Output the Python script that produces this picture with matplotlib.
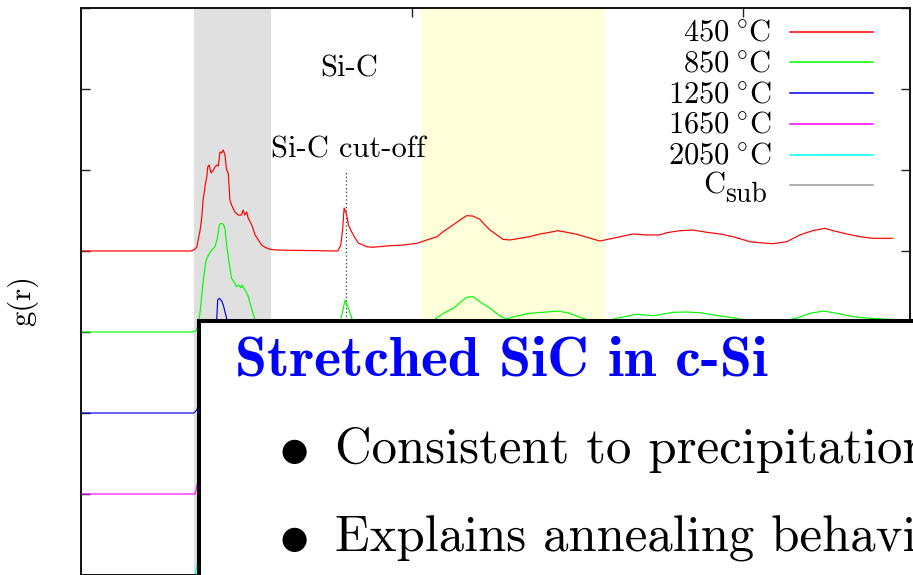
import matplotlib
matplotlib.use("Agg")
import matplotlib.pyplot as plt
from matplotlib.lines import Line2D

plt.rcParams["font.family"] = "cmr10"
plt.rcParams["mathtext.fontset"] = "cm"
plt.rcParams["axes.unicode_minus"] = False

# Pair distribution functions g(r), r in Angstrom; each curve is shifted
# upwards by its offset when drawn.
r_450 = [1.000, 1.329, 1.341, 1.350, 1.354, 1.360, 1.365, 1.369, 1.375, 1.380,
         1.383, 1.387, 1.393, 1.400, 1.405, 1.410, 1.415, 1.420, 1.425, 1.430,
         1.435, 1.440, 1.445, 1.450, 1.455, 1.465, 1.475, 1.485, 1.490, 1.495,
         1.501, 1.505, 1.516, 1.526, 1.536, 1.546, 1.556, 1.571, 1.589, 1.776,
         1.785, 1.791, 1.795, 1.803, 1.808, 1.818, 1.828, 1.838, 1.863, 1.882,
         1.924, 1.973, 2.015, 2.045, 2.076, 2.094, 2.124, 2.145, 2.165, 2.184,
         2.205, 2.221, 2.236, 2.257, 2.275, 2.296, 2.326, 2.356, 2.387, 2.417,
         2.441, 2.468, 2.498, 2.529, 2.568, 2.607, 2.668, 2.710, 2.749, 2.770,
         2.810, 2.849, 2.891, 2.931, 2.970, 3.021, 3.051, 3.091, 3.133, 3.172,
         3.211, 3.248, 3.272, 3.314, 3.353, 3.393, 3.453]
g_450 = [0.000, 0.000, 0.012, 0.049, 0.136, 0.259, 0.420, 0.630, 0.802, 0.914,
         1.037, 1.062, 0.963, 1.000, 1.037, 1.062, 1.049, 1.222, 1.210, 1.247,
         1.185, 1.000, 0.963, 0.630, 0.568, 0.481, 0.444, 0.444, 0.506, 0.444,
         0.481, 0.407, 0.321, 0.198, 0.136, 0.074, 0.046, 0.021, 0.012, 0.000,
         0.074, 0.284, 0.531, 0.444, 0.321, 0.235, 0.160, 0.099, 0.053, 0.046,
         0.062, 0.074, 0.095, 0.136, 0.177, 0.238, 0.321, 0.383, 0.436, 0.432,
         0.391, 0.321, 0.259, 0.198, 0.144, 0.136, 0.157, 0.177, 0.210, 0.231,
         0.251, 0.231, 0.206, 0.169, 0.123, 0.157, 0.210, 0.198, 0.198, 0.226,
         0.251, 0.259, 0.231, 0.210, 0.177, 0.115, 0.102, 0.090, 0.115, 0.198,
         0.251, 0.280, 0.251, 0.210, 0.177, 0.157, 0.157]

r_850 = [1.000, 1.335, 1.347, 1.354, 1.360, 1.369, 1.377, 1.385, 1.395, 1.405,
         1.412, 1.418, 1.423, 1.430, 1.435, 1.440, 1.447, 1.455, 1.465, 1.470,
         1.477, 1.483, 1.487, 1.495, 1.504, 1.511, 1.521, 1.528, 1.547, 1.577,
         1.776, 1.786, 1.798, 1.808, 1.818, 1.837, 1.888, 1.964, 2.039, 2.069,
         2.095, 2.125, 2.145, 2.165, 2.185, 2.205, 2.236, 2.266, 2.286, 2.316,
         2.356, 2.407, 2.442, 2.477, 2.508, 2.528, 2.568, 2.618, 2.679, 2.729,
         2.789, 2.830, 2.870, 2.931, 2.981, 3.066, 3.162, 3.202, 3.243, 3.283,
         3.333, 3.384, 3.453]
g_850 = [0.000, 0.000, 0.012, 0.086, 0.251, 0.621, 0.868, 0.951, 1.012, 1.053,
         1.157, 1.321, 1.342, 1.330, 1.280, 1.074, 0.868, 0.663, 0.601, 0.559,
         0.580, 0.547, 0.580, 0.519, 0.457, 0.354, 0.210, 0.127, 0.062, 0.012,
         0.000, 0.169, 0.395, 0.293, 0.169, 0.074, 0.037, 0.049, 0.111, 0.157,
         0.231, 0.293, 0.362, 0.428, 0.436, 0.374, 0.293, 0.198, 0.160, 0.198,
         0.231, 0.247, 0.259, 0.231, 0.181, 0.157, 0.099, 0.169, 0.219, 0.201,
         0.243, 0.247, 0.238, 0.198, 0.169, 0.099, 0.169, 0.231, 0.259, 0.231,
         0.189, 0.169, 0.154]

r_1250 = [1.000, 1.341, 1.350, 1.369, 1.390, 1.402, 1.410, 1.413, 1.418, 1.425,
          1.430, 1.435, 1.440, 1.450, 1.468, 1.495, 1.526, 1.556, 1.601, 1.776,
          1.798, 1.820, 2.040, 2.165, 2.300, 2.440, 2.600, 2.830, 3.060, 3.250,
          3.453]
g_1250 = [0.000, 0.000, 0.037, 0.346, 0.840, 1.025, 1.148, 1.395, 1.416, 1.383,
          1.333, 1.251, 1.170, 0.901, 0.654, 0.469, 0.222, 0.062, 0.000, 0.000,
          0.180, 0.030, 0.120, 0.380, 0.160, 0.240, 0.110, 0.230, 0.110, 0.240,
          0.150]

r_1650 = [1.000, 1.345, 1.370, 1.410, 1.440, 1.500, 1.580, 1.778, 1.800, 1.830,
          2.100, 2.170, 2.300, 2.450, 2.600, 2.800, 3.050, 3.250, 3.453]
g_1650 = [0.000, 0.000, 0.500, 1.500, 1.200, 0.400, 0.000, 0.000, 0.120, 0.020,
          0.200, 0.350, 0.150, 0.220, 0.120, 0.220, 0.100, 0.250, 0.150]

r_2050 = [1.000, 1.345, 1.370, 1.410, 1.440, 1.500, 1.580, 1.778, 1.800, 1.830,
          2.100, 2.170, 2.300, 2.450, 2.600, 2.800, 3.050, 3.250, 3.453]
g_2050 = [0.000, 0.000, 0.550, 1.600, 1.250, 0.420, 0.000, 0.000, 0.100, 0.020,
          0.200, 0.360, 0.150, 0.230, 0.120, 0.220, 0.100, 0.260, 0.150]

r_sub = [1.000, 1.360, 1.420, 1.480, 1.560, 2.100, 2.170, 2.300, 2.500, 2.800,
         3.100, 3.453]
g_sub = [0.000, 0.000, 1.800, 0.400, 0.000, 0.150, 0.450, 0.100, 0.200, 0.200,
         0.150, 0.150]

temperatures = [450, 850, 1250, 1650, 2050]
offsets = [4, 3, 2, 1, 0]
colors = ["#ff0000", "#00ff00", "#0000ee", "#ff00ff", "#00ffff"]
sub_color = "#999999"
curves = [(r_450, g_450), (r_850, g_850), (r_1250, g_1250),
          (r_1650, g_1650), (r_2050, g_2050)]

bond_shell = (1.341, 1.574)     # grey band
second_shell = (2.030, 2.583)   # yellow band
cutoff_r = 1.80
cutoff_top = 5.0

W, H = 913, 575


def fx(px):
    return px / W


def fy(py):
    return (H - py) / H


fig = plt.figure(figsize=(W / 100, H / 100), dpi=100)
ax = fig.add_axes([fx(81), 0.0, 829 / W, 567 / H])
ax.set_xlim(1.0, 3.505)
ax.set_ylim(0, 7)

ax.axvspan(*bond_shell, color="#e0e0e0", lw=0, zorder=0)
ax.axvspan(*second_shell, color="#ffffd9", lw=0, zorder=0)
ax.vlines(cutoff_r, 0, cutoff_top, colors="#333333", linestyles=(0, (1, 2)),
          lw=0.9, zorder=1)

labels = [f"{t}$\\:^{{\\circ}}$C" for t in temperatures]
for off, col, (r, g) in zip(offsets, colors, curves):
    ax.plot(r, [v + off for v in g], color=col, lw=0.85, zorder=2)
ax.plot(r_sub, g_sub, color=sub_color, lw=0.85, zorder=1.5)

ax.text(1.810, 6.16, "Si-C", ha="center", va="baseline", fontsize=22)
ax.text(1.807, 5.16, "Si-C cut-off", ha="center", va="baseline", fontsize=22)

ax.set_xticks([2, 3])
ax.set_yticks(range(0, 8))
ax.tick_params(which="both", direction="in", length=6.5, width=1.0,
               top=True, right=True, labelleft=False, labelbottom=False,
               color="#222222")
for sp in ax.spines.values():
    sp.set_linewidth(1.4)
    sp.set_color("#111111")

ax.set_ylabel("g(r)", fontsize=22)
ax.yaxis.set_label_coords(-0.052, 0.485)

# Key: label right-aligned, sample line to its right
for i, (lab, col) in enumerate(zip(labels, colors)):
    y_line = 31.7 + 30.7 * i
    fig.add_artist(Line2D([fx(790), fx(873)], [fy(y_line), fy(y_line)],
                          color=col, lw=1.1))
    fig.text(fx(771), fy(y_line + 9), lab, ha="right", va="baseline",
             fontsize=22)
y_line = 31.7 + 30.7 * len(labels)
fig.add_artist(Line2D([fx(790), fx(873)], [fy(y_line), fy(y_line)],
                      color=sub_color, lw=1.1))
fig.text(fx(725), fy(y_line + 8.5), "C", ha="right", va="baseline",
         fontsize=22)
fig.text(fx(725), fy(y_line + 16.5), "sub", ha="left", va="baseline",
         fontsize=20)

# Overlay summary panel
box = fig.add_axes([fx(198.5), -0.05, 0.9, 254 / H + 0.05])
box.set_xticks([])
box.set_yticks([])
box.set_facecolor("white")
for sp in box.spines.values():
    sp.set_linewidth(2.9)
    sp.set_color("black")

ft = fig.transFigure
box.text(fx(235), fy(375), "Stretched SiC in c-Si", transform=ft,
         fontsize=41.5, family="cmb10", color="#0000ff", va="baseline")
bullet_lines = ["Consistent to precipitation model",
                "Explains annealing behavior"]
for (yb, yt), txt in zip([(450, 463), (538, 551.7)], bullet_lines):
    box.text(fx(292.7), fy(yb), r"$\bullet$", transform=ft, fontsize=45,
             ha="center", va="center")
    box.text(fx(335), fy(yt), txt, transform=ft, fontsize=36.6,
             va="baseline")

fig.savefig("out.png", dpi=100)
